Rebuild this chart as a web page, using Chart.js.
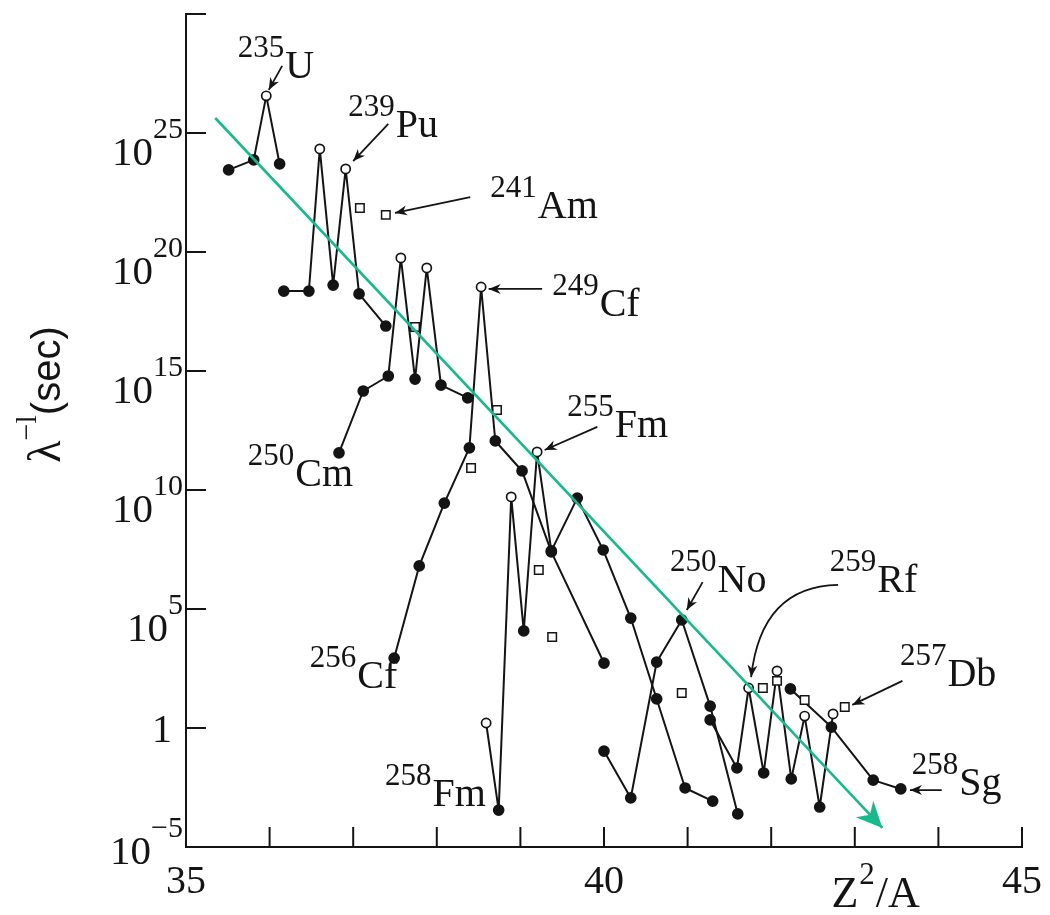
<!DOCTYPE html>
<html><head><meta charset="utf-8">
<script src="https://cdn.jsdelivr.net/npm/chart.js@4.4.1/dist/chart.umd.min.js"></script>
<style>html,body{margin:0;padding:0;background:#fff}#wrap{width:1050px;height:915px;position:relative}</style>
</head><body><div id="wrap"><canvas id="c"></canvas></div>
<script>
// Z^2/A (x) and log10 of lambda^-1 in seconds (y) for each isotope chain; odd = 1 -> open circle (odd-A)
const U_x   = [35.51, 35.81, 35.96, 36.12];
const U_log = [23.45, 23.87, 26.56, 23.70];
const U_odd = [0, 0, 1, 0];

const Pu_x   = [36.17, 36.47, 36.60, 36.76, 36.91, 37.07, 37.39];
const Pu_log = [18.36, 18.36, 24.33, 18.61, 23.49, 18.24, 16.89];
const Pu_odd = [0, 0, 1, 0, 1, 0, 0];

const Cm_x   = [36.83, 37.12, 37.42, 37.57, 37.74, 37.88, 38.05, 38.37];
const Cm_log = [11.56, 14.16, 14.79, 19.75, 14.66, 19.33, 14.41, 13.87];
const Cm_odd = [0, 0, 0, 1, 0, 1, 0, 0];

const Cf_x   = [37.49, 37.79, 38.09, 38.39, 38.53, 38.70, 39.02, 39.37, 40.00];
const Cf_log = [2.94, 6.81, 9.45, 11.77, 18.53, 12.06, 10.80, 7.40, 2.73];
const Cf_odd = [0, 0, 0, 0, 1, 0, 0, 0, 0];

const Fm_x   = [38.59, 38.74, 38.89, 39.04, 39.20, 39.37, 39.68, 39.99, 40.32, 40.63, 40.97, 41.30];
const Fm_log = [0.21, -3.45, 9.71, 4.08, 11.60, 7.44, 9.66, 7.48, 4.62, 1.22, -2.52, -3.07];
const Fm_odd = [1, 0, 1, 0, 1, 0, 0, 0, 0, 0, 0, 0];

const No_x   = [40.00, 40.32, 40.63, 40.93, 41.27, 41.60];
const No_log = [-0.97, -2.94, 2.77, 4.54, 0.92, -3.61];
const No_odd = [0, 0, 0, 0, 0, 0];

const Rf_x   = [41.27, 41.59, 41.73, 41.91, 42.07, 42.24, 42.40, 42.58, 42.74];
const Rf_log = [0.34, -1.68, 1.68, -1.89, 2.40, -2.14, 0.50, -3.32, 0.59];
const Rf_odd = [0, 0, 1, 0, 1, 0, 1, 0, 1];

const Sg_x   = [42.23, 42.72, 43.22, 43.55];
const Sg_log = [1.64, 0.04, -2.19, -2.56];
const Sg_odd = [0, 0, 0, 0];

// odd-Z nuclei (open squares)
const SQ_x   = [37.08, 37.39, 37.74, 38.72, 38.41, 39.22, 39.38, 40.93, 41.90, 42.07, 42.40, 42.88];
const SQ_log = [21.85, 21.56, 16.85, 13.36, 10.92, 6.64, 3.82, 1.47, 1.68, 1.98, 1.18, 0.88];

// trend arrow (start, end)
const TREND_x   = [35.35, 43.33];
const TREND_log = [25.63, -4.20];

// axis ticks
const X_TICKS = [35, 36, 37, 38, 39, 40, 41, 42, 43, 44, 45];
const X_LABELS = [35, 40, 45];
const Y_TICK_EXP = [-5, 0, 5, 10, 15, 20, 25, 30];
const Y_LABEL_EXP = [-5, 0, 5, 10, 15, 20, 25];

// isotope labels: mass number, symbol, anchor (x in Z^2/A, y as log10) of label start / symbol baseline
const LABELS = [
  {mass: '235', sym: 'U',  x: 35.62, e: 27.31},
  {mass: '239', sym: 'Pu', x: 36.94, e: 24.83},
  {mass: '241', sym: 'Am', x: 38.64, e: 21.43},
  {mass: '249', sym: 'Cf', x: 39.38, e: 17.31},
  {mass: '255', sym: 'Fm', x: 39.56, e: 12.23},
  {mass: '250', sym: 'Cm', x: 35.74, e: 10.17},
  {mass: '256', sym: 'Cf', x: 36.48, e: 1.68},
  {mass: '258', sym: 'Fm', x: 37.38, e: -3.28},
  {mass: '250', sym: 'No', x: 40.79, e: 5.71},
  {mass: '259', sym: 'Rf', x: 42.70, e: 5.71},
  {mass: '257', sym: 'Db', x: 43.54, e: 1.77},
  {mass: '258', sym: 'Sg', x: 43.68, e: -2.82}
];
const ARROWS = [
  {x1: 36.15, e1: 27.82, x2: 35.99, e2: 26.81},
  {x1: 37.42, e1: 25.38, x2: 37.00, e2: 23.82},
  {x1: 38.40, e1: 22.31, x2: 37.50, e2: 21.64},
  {x1: 39.26, e1: 18.45, x2: 38.62, e2: 18.45},
  {x1: 39.92, e1: 12.65, x2: 39.29, e2: 11.68},
  {x1: 41.18, e1: 6.13, x2: 40.99, e2: 4.96},
  {x1: 43.57, e1: 1.98, x2: 42.97, e2: 0.97},
  {x1: 44.04, e1: -2.61, x2: 43.66, e2: -2.61}
];
const CURVED_ARROW = {x1: 42.80, e1: 6.01, cx: 41.88, ce: 5.95, x2: 41.76, e2: 2.14};

const SERIF = '"Liberation Serif", "Times New Roman", serif';
const INK = '#141414';
const GREEN = 'rgb(22,186,140)';

function chainDataset(xs, logs, odd) {
  return {
    type: 'line',
    data: xs.map((v, i) => ({x: v, y: Math.pow(10, logs[i])})),
    borderColor: INK,
    borderWidth: 2,
    borderJoinStyle: 'round',
    tension: 0,
    pointStyle: 'circle',
    pointRadius: odd.map(o => o ? 4.6 : 5),
    pointBackgroundColor: odd.map(o => o ? '#fff' : INK),
    pointBorderColor: INK,
    pointBorderWidth: 1.7,
    order: 2
  };
}

const datasets = [
  {
    type: 'line',
    data: TREND_x.map((v, i) => ({x: v, y: Math.pow(10, TREND_log[i])})),
    borderColor: GREEN, borderWidth: 2.6, pointRadius: 0, order: 0, label: 'trend'
  },
  chainDataset(U_x, U_log, U_odd),
  chainDataset(Pu_x, Pu_log, Pu_odd),
  chainDataset(Cm_x, Cm_log, Cm_odd),
  chainDataset(Cf_x, Cf_log, Cf_odd),
  chainDataset(Fm_x, Fm_log, Fm_odd),
  chainDataset(No_x, No_log, No_odd),
  chainDataset(Rf_x, Rf_log, Rf_odd),
  chainDataset(Sg_x, Sg_log, Sg_odd),
  {
    type: 'scatter',
    data: SQ_x.map((v, i) => ({x: v, y: Math.pow(10, SQ_log[i])})),
    pointStyle: 'rect', pointRadius: 6, pointBackgroundColor: '#fff',
    pointBorderColor: INK, pointBorderWidth: 1.5, showLine: false, order: 1
  }
];

function arrowHead(ctx, x1, y1, x2, y2, len, half) {
  const a = Math.atan2(y2 - y1, x2 - x1);
  ctx.save();
  ctx.translate(x2, y2); ctx.rotate(a);
  ctx.beginPath();
  ctx.moveTo(0, 0);
  ctx.lineTo(-len, -half);
  ctx.lineTo(-len * 0.7, 0);
  ctx.lineTo(-len, half);
  ctx.closePath();
  ctx.fill();
  ctx.restore();
}

const decor = {
  id: 'decor',
  afterDatasetsDraw(chart) {
    const {ctx, chartArea: a, scales: {x, y}} = chart;
    const X = v => x.getPixelForValue(v);
    const Y = e => y.getPixelForValue(Math.pow(10, e));
    ctx.save();
    // green arrow head
    const m = chart.getDatasetMeta(0).data;
    ctx.fillStyle = GREEN;
    arrowHead(ctx, m[0].x, m[0].y, m[1].x, m[1].y, 26, 12);

    // inward ticks
    ctx.strokeStyle = INK; ctx.lineWidth = 2;
    ctx.beginPath();
    Y_TICK_EXP.forEach(e => { const py = Y(e); ctx.moveTo(a.left, py); ctx.lineTo(a.left + 20, py); });
    X_TICKS.forEach(v => { const px = X(v); ctx.moveTo(px, a.bottom); ctx.lineTo(px, a.bottom - 20); });
    ctx.stroke();

    ctx.fillStyle = INK;
    // y tick labels
    Y_LABEL_EXP.forEach(e => {
      const py = Y(e);
      if (e === 0) {
        ctx.font = '40px ' + SERIF; ctx.textAlign = 'right'; ctx.textBaseline = 'alphabetic';
        ctx.fillText('1', a.left - 14, py + 14);
        return;
      }
      const exp = e < 0 ? '\u2212' + (-e) : String(e);
      const off = e === -5 ? 17 : 32;
      ctx.font = '30px ' + SERIF;
      const we = ctx.measureText(exp).width;
      ctx.font = '41px ' + SERIF;
      const wb = ctx.measureText('10').width;
      const right = a.left - 3;
      ctx.textAlign = 'left'; ctx.textBaseline = 'alphabetic';
      ctx.fillText('10', right - we - wb, py + off);
      ctx.font = '30px ' + SERIF;
      ctx.fillText(exp, right - we, py + off - 27);
    });
    // x tick labels
    ctx.font = '40px ' + SERIF; ctx.textAlign = 'center'; ctx.textBaseline = 'alphabetic';
    X_LABELS.forEach(v => ctx.fillText(String(v), X(v), a.bottom + 46));

    // x axis title Z^2/A
    ctx.textAlign = 'left';
    let tx = X(42.72), ty = a.bottom + 60;
    ctx.font = '44px ' + SERIF; ctx.fillText('Z', tx, ty); tx += ctx.measureText('Z').width + 1;
    ctx.font = '31px ' + SERIF; ctx.fillText('2', tx, ty - 23); tx += ctx.measureText('2').width + 1;
    ctx.font = '44px ' + SERIF; ctx.fillText('/A', tx, ty);

    // y axis title λ^-1(sec)
    ctx.save();
    ctx.translate(60, (a.top + a.bottom) / 2 - 36);
    ctx.rotate(-Math.PI / 2);
    const parts = [
      {t: '\u03bb', f: '46px ' + SERIF, dy: 0},
      {t: '\u2212l', f: '30px ' + SERIF, dy: -24},
      {t: '(sec)', f: '40px "Liberation Sans", Arial, sans-serif', dy: 0}
    ];
    let tot = 0;
    parts.forEach(p => { ctx.font = p.f; p.w = ctx.measureText(p.t).width; tot += p.w; });
    let ux = -tot / 2;
    parts.forEach(p => { ctx.font = p.f; ctx.fillText(p.t, ux, p.dy); ux += p.w; });
    ctx.restore();

    // isotope labels
    LABELS.forEach(L => {
      const px = X(L.x), py = Y(L.e);
      ctx.font = '31px ' + SERIF;
      ctx.fillText(L.mass, px, py - 21);
      const w = ctx.measureText(L.mass).width;
      ctx.font = '40px ' + SERIF;
      ctx.fillText(L.sym, px + w + 1, py);
    });
    // arrows
    ctx.lineWidth = 1.8; ctx.strokeStyle = INK;
    ARROWS.forEach(A => {
      const x1 = X(A.x1), y1 = Y(A.e1), x2 = X(A.x2), y2 = Y(A.e2);
      ctx.beginPath(); ctx.moveTo(x1, y1); ctx.lineTo(x2, y2); ctx.stroke();
      arrowHead(ctx, x1, y1, x2, y2, 12, 5);
    });
    const C = CURVED_ARROW;
    const cx1 = X(C.x1), cy1 = Y(C.e1), ccx = X(C.cx), ccy = Y(C.ce), cx2 = X(C.x2), cy2 = Y(C.e2);
    ctx.beginPath(); ctx.moveTo(cx1, cy1); ctx.quadraticCurveTo(ccx, ccy, cx2, cy2); ctx.stroke();
    arrowHead(ctx, ccx, ccy, cx2, cy2, 12, 5);
    ctx.restore();
  }
};

new Chart(document.getElementById('c'), {
  type: 'line',
  data: {datasets},
  options: {
    responsive: true,
    maintainAspectRatio: false,
    animation: false,
    layout: {autoPadding: false, padding: {left: 186, top: 14, right: 28, bottom: 68}},
    plugins: {legend: {display: false}, tooltip: {enabled: false}},
    scales: {
      x: {
        type: 'linear', min: 35, max: 45,
        ticks: {display: false, stepSize: 1},
        grid: {display: false, drawTicks: false},
        border: {display: true, color: INK, width: 2}
      },
      y: {
        type: 'logarithmic', min: 1e-5, max: 1e30,
        ticks: {display: false},
        grid: {display: false, drawTicks: false},
        border: {display: true, color: INK, width: 2}
      }
    }
  },
  plugins: [decor]
});
</script>
</body></html>
